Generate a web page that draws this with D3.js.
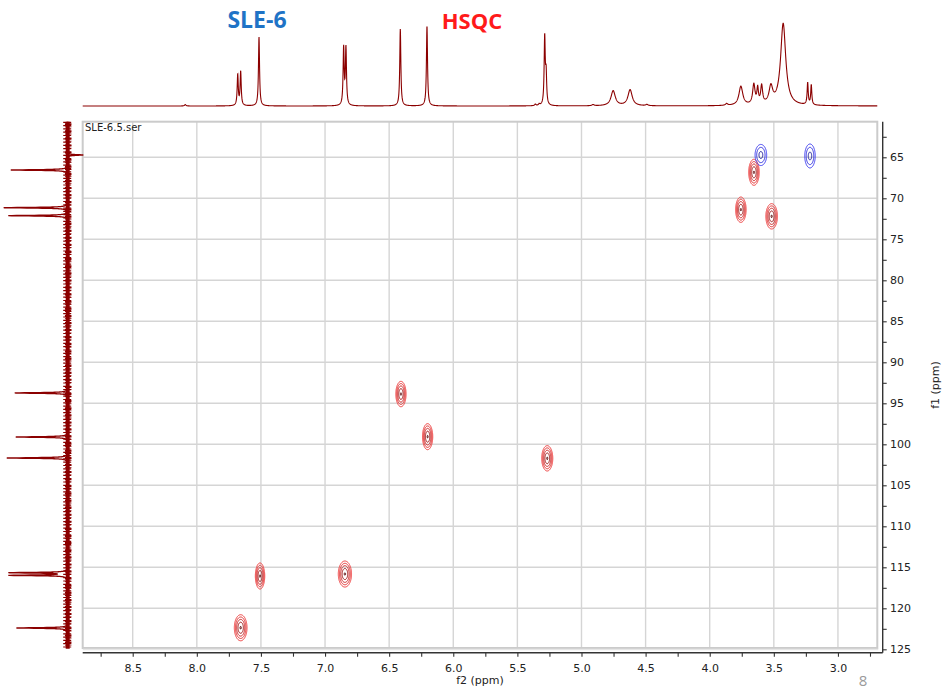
<!DOCTYPE html>
<html>
<head>
<meta charset="utf-8">
<script src="https://cdn.jsdelivr.net/npm/d3@7"></script>
<style>
  body { margin: 0; background: #fff; }
  svg { display: block; font-family: "DejaVu Sans", Verdana, sans-serif; }
</style>
</head>
<body>
<svg id="chart" width="943" height="692"></svg>
<script>
// ---- 1H projection along f2: peak shifts (ppm), heights, half-widths (ppm)
const hShift  = [8.090, 7.681, 7.658, 7.515, 6.855, 6.837, 6.413, 6.205, 5.360, 5.330, 5.287, 5.276, 4.910, 4.753, 4.621, 4.490, 3.868, 3.757, 3.656, 3.626, 3.595, 3.523, 3.427, 3.236, 3.208];
const hHeight = [1.5,   31,    34,    69,    57,    57,    77,    80,    1.5,   1.5,   68,    30,    1.2,   15,    16,    1.2,   1.8,   19,    20,    15,    18,    17,    82,    22,    20];
const hWidth  = [0.006, 0.005, 0.005, 0.005, 0.005, 0.005, 0.005, 0.005, 0.006, 0.006, 0.005, 0.005, 0.010, 0.020, 0.020, 0.010, 0.010, 0.018, 0.011, 0.007, 0.009, 0.017, 0.024, 0.005, 0.005];

// ---- 13C projection along f1: peak shifts (ppm) and heights (negative = CH2)
const cShift  = [64.72, 66.55, 71.15, 72.12, 93.74, 99.11, 101.67, 115.66, 115.98, 122.40];
const cHeight = [-16,   57,    64,    59,    53,    52,    61,     58,     58,     51];
const cWidth  = 0.05;

// ---- HSQC cross peaks: f2 (ppm), f1 (ppm), phase (+1 CH/CH3, -1 CH2), line widths (ppm)
const xpF2    = [3.601, 3.218, 3.655, 3.757, 3.517, 6.408, 6.200, 5.267, 7.507, 6.845, 7.658];
const xpF1    = [64.72, 64.84, 66.83, 71.39, 72.20, 93.87, 99.07, 101.71, 116.06, 115.82, 122.37];
const xpPhase = [-1,    -1,    1,     1,     1,     1,     1,     1,      1,      1,      1];
const xpSigF2 = [0.021, 0.019, 0.019, 0.019, 0.021, 0.0185, 0.0185, 0.020, 0.017, 0.024, 0.023];
const xpSigF1 = [0.60,  0.68,  0.74,  0.72,  0.72,  0.72,  0.74,  0.72,   0.74,   0.74,   0.74];

// ---- axis ticks
const f2Ticks = [8.75, 8.5, 8.25, 8.0, 7.75, 7.5, 7.25, 7.0, 6.75, 6.5, 6.25, 6.0, 5.75, 5.5, 5.25, 5.0, 4.75, 4.5, 4.25, 4.0, 3.75, 3.5, 3.25, 3.0, 2.75];
const f2Labels = ["8.5", "8.0", "7.5", "7.0", "6.5", "6.0", "5.5", "5.0", "4.5", "4.0", "3.5", "3.0"];
const f1Ticks = [62.5, 65, 67.5, 70, 72.5, 75, 77.5, 80, 82.5, 85, 87.5, 90, 92.5, 95, 97.5, 100, 102.5, 105, 107.5, 110, 112.5, 115, 117.5, 120, 122.5, 125];
const f1Labels = ["65", "70", "75", "80", "85", "90", "95", "100", "105", "110", "115", "120", "125"];
const f2Grid = [8.5, 8.0, 7.5, 7.0, 6.5, 6.0, 5.5, 5.0, 4.5, 4.0, 3.5, 3.0];
const f1Grid = [65, 70, 75, 80, 85, 90, 95, 100, 105, 110, 115, 120];

// ---- layout
const plot = { left: 82.7, right: 877.3, top: 121.7, bottom: 648 };
const DARK_RED = "#8b0000";

const svg = d3.select("#chart");

const x = d3.scaleLinear().domain([8.89, 2.693]).range([plot.left, plot.right]);
const y = d3.scaleLinear().domain([60.66, 124.84]).range([plot.top, plot.bottom]);
const yTop = d3.scaleLinear().domain([0, 100]).range([106, 6]);       // 1H trace intensity
const xLeft = d3.scaleLinear().domain([0, 100]).range([67.7, -32.3]); // 13C trace intensity

const lor = (d, w) => 1 / (1 + (d / w) * (d / w));

// ---- grid and frame
const grid = svg.append("g");
grid.selectAll("line.v").data(f2Grid).join("line")
  .attr("x1", d => x(d)).attr("x2", d => x(d))
  .attr("y1", plot.top).attr("y2", plot.bottom)
  .attr("stroke", "#d5d5d5").attr("stroke-width", 1.4);
grid.selectAll("line.h").data(f1Grid).join("line")
  .attr("x1", plot.left).attr("x2", plot.right)
  .attr("y1", d => y(d)).attr("y2", d => y(d))
  .attr("stroke", "#d5d5d5").attr("stroke-width", 1.4);
svg.append("rect")
  .attr("x", plot.left).attr("y", plot.top)
  .attr("width", plot.right - plot.left).attr("height", plot.bottom - plot.top)
  .attr("fill", "none").attr("stroke", "#cbcbcb").attr("stroke-width", 2);
svg.append("line")
  .attr("x1", plot.left).attr("x2", plot.right + 1)
  .attr("y1", plot.bottom + 1.5).attr("y2", plot.bottom + 1.5)
  .attr("stroke", "#e6e6e6").attr("stroke-width", 1.5);

// ---- HSQC contours (computed on a supersampled grid over the plot area)
const S = 2;
const gw = Math.round((plot.right - plot.left) * S);
const gh = Math.round((plot.bottom - plot.top) * S);
const posField = new Float64Array(gw * gh);
const negField = new Float64Array(gw * gh);

xpF2.forEach((c2, k) => {
  const c1 = xpF1[k], s2 = xpSigF2[k], s1 = xpSigF1[k];
  const field = xpPhase[k] > 0 ? posField : negField;
  const i0 = Math.max(0, Math.floor((x(c2 - 4.5 * s2) - plot.left) * S));
  const i1 = Math.min(gw - 1, Math.ceil((x(c2 + 4.5 * s2) - plot.left) * S));
  const lo = Math.min(i0, i1), hi = Math.max(i0, i1);
  const j0 = Math.max(0, Math.floor((y(c1 - 4.5 * s1) - plot.top) * S));
  const j1 = Math.min(gh - 1, Math.ceil((y(c1 + 4.5 * s1) - plot.top) * S));
  for (let j = j0; j <= j1; j++) {
    const f1 = y.invert(plot.top + (j + 0.5) / S);
    const a1 = (f1 - c1) / s1;
    for (let i = lo; i <= hi; i++) {
      const f2 = x.invert(plot.left + (i + 0.5) / S);
      const a2 = (f2 - c2) / s2;
      field[j * gw + i] += Math.exp(-0.5 * (a1 * a1 + a2 * a2));
    }
  }
});

const toPlot = d3.geoIdentity().scale(1 / S).translate([plot.left, plot.top]);
const contourPath = d3.geoPath(toPlot);

const posLevels = [0.10, 0.21, 0.39, 0.66, 0.975];
const posColors = ["#f03a3a", "#e32b2b", "#cc2020", "#9e1414", "#5a0a0a"];
const negLevels = [0.10, 0.30, 0.78];
const negColors = ["#3b3bf2", "#2d2de0", "#1f1f9a"];

const contG = svg.append("g").attr("fill", "none").attr("stroke-width", 1);
contG.selectAll("path.pos")
  .data(d3.contours().size([gw, gh]).thresholds(posLevels)(posField))
  .join("path")
  .attr("d", contourPath)
  .attr("stroke", (d, i) => posColors[i]);
contG.selectAll("path.neg")
  .data(d3.contours().size([gw, gh]).thresholds(negLevels)(negField))
  .join("path")
  .attr("d", contourPath)
  .attr("stroke", (d, i) => negColors[i]);

// ---- top 1H trace
const f2Samples = d3.range(x.domain()[0], x.domain()[1], -0.0012);
const hTrace = f2Samples.map(f => {
  let v = 0;
  hShift.forEach((c, k) => { v += hHeight[k] * lor(f - c, hWidth[k]); });
  return [f, v];
});
svg.append("path")
  .datum(hTrace)
  .attr("fill", "none")
  .attr("stroke", DARK_RED)
  .attr("stroke-width", 1.1)
  .attr("d", d3.line().x(d => x(d[0])).y(d => yTop(d[1])));

// ---- left 13C trace
const baseG = svg.append("g").attr("stroke", DARK_RED);
baseG.append("line")
  .attr("x1", xLeft(0)).attr("x2", xLeft(0))
  .attr("y1", plot.top).attr("y2", plot.bottom + 0.7)
  .attr("stroke-width", 4);
baseG.append("line")
  .attr("x1", xLeft(0) - 0.5).attr("x2", xLeft(0) - 0.5)
  .attr("y1", plot.top).attr("y2", plot.bottom + 0.7)
  .attr("stroke-width", 8).attr("stroke-dasharray", "1.2 2.1");
baseG.append("line")
  .attr("x1", xLeft(0) + 0.5).attr("x2", xLeft(0) + 0.5)
  .attr("y1", plot.top + 1.5).attr("y2", plot.bottom - 1)
  .attr("stroke-width", 6.5).attr("stroke-dasharray", "2 1.3 0.8 3");

const f1Samples = d3.range(y.domain()[0], y.domain()[1], 0.008);
const cTrace = f1Samples.map(f => {
  let v = 0;
  cShift.forEach((c, k) => { v += cHeight[k] * lor(f - c, cWidth); });
  return [f, v];
});
svg.append("path")
  .datum(cTrace)
  .attr("fill", "none")
  .attr("stroke", DARK_RED)
  .attr("stroke-width", 1.3)
  .attr("d", d3.line().x(d => Math.min(xLeft(d[1]), plot.left)).y(d => y(d[0])));

// ---- axes
const axisColor = "#333";
const fmt2 = d => { const s = d.toFixed(1); return f2Labels.includes(s) && Math.abs(d * 2 - Math.round(d * 2)) < 1e-9 ? s : ""; };
const gx = svg.append("g")
  .attr("transform", `translate(0,${plot.bottom + 4.7})`)
  .call(d3.axisBottom(x).tickValues(f2Ticks).tickFormat(fmt2).tickSize(4).tickPadding(7.6).tickSizeOuter(0));
gx.select(".domain").remove();
gx.append("line").attr("x1", plot.left).attr("x2", plot.right + 5.4).attr("stroke", axisColor).attr("stroke-width", 1.4);

const fmt1 = d => { const s = String(d); return f1Labels.includes(s) ? s : ""; };
const gy = svg.append("g")
  .attr("transform", `translate(${plot.right + 5.4},0)`)
  .call(d3.axisRight(y).tickValues(f1Ticks).tickFormat(fmt1).tickSize(4).tickPadding(3.3).tickSizeOuter(0));
gy.select(".domain").remove();
gy.append("line").attr("y1", plot.top).attr("y2", plot.bottom + 4.7).attr("stroke", axisColor).attr("stroke-width", 1.4);

[gx, gy].forEach(g => {
  g.selectAll(".tick line").attr("stroke", axisColor).attr("stroke-width", 1.1);
  g.selectAll(".tick text").attr("fill", "#222").style("font-size", "11px")
    .style("font-family", "\"DejaVu Sans\", Verdana, sans-serif");
});

// ---- labels
svg.append("text").attr("x", 480).attr("y", 684).attr("text-anchor", "middle")
  .attr("fill", "#222").style("font-size", "11px").text("f2 (ppm)");
svg.append("text").attr("transform", "translate(939,385) rotate(-90)").attr("text-anchor", "middle")
  .attr("fill", "#222").style("font-size", "11px").text("f1 (ppm)");
svg.append("text").attr("x", 85).attr("y", 131)
  .attr("fill", "#222").style("font-size", "10px").text("SLE-6.5.ser");
svg.append("text").attr("x", 863).attr("y", 686).attr("text-anchor", "middle")
  .attr("fill", "#9a9a9a").style("font-size", "15px").style("font-family", "\"Open Sans\", sans-serif").text("8");

svg.append("text").attr("x", 257).attr("y", 28).attr("text-anchor", "middle")
  .attr("fill", "#1f73c6").style("font-size", "23px").style("font-weight", "bold")
  .style("font-family", "\"Open Sans\", sans-serif").text("SLE-6");
svg.append("text").attr("x", 472).attr("y", 29).attr("text-anchor", "middle")
  .attr("fill", "#ff1a1a").style("font-size", "22px").style("font-weight", "bold")
  .style("font-family", "\"Open Sans\", sans-serif").text("HSQC");
</script>
</body>
</html>
